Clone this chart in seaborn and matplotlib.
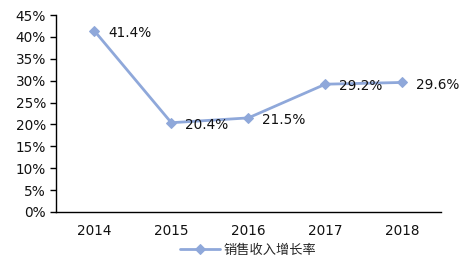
import matplotlib
matplotlib.use("Agg")
import matplotlib.pyplot as plt
import seaborn as sns
import pandas as pd
from matplotlib.ticker import FuncFormatter

years = ["2014", "2015", "2016", "2017", "2018"]
growth = [41.4, 20.4, 21.5, 29.2, 29.6]
series_name = "销售收入增长率"
yticks = [0, 5, 10, 15, 20, 25, 30, 35, 40, 45]

sns.set_style("white")
plt.rcParams['font.family'] = ['DejaVu Sans', 'Noto Sans CJK SC']

df = pd.DataFrame({"year": years, "value": growth, "series": series_name})

fig = plt.figure(figsize=(4.69, 2.64), dpi=100)
ax = fig.add_axes([0.119, 0.197, 0.821, 0.746])
color = "#8FA8DA"
sns.lineplot(data=df, x="year", y="value", hue="series", palette=[color],
             marker="D", markersize=5, markeredgecolor=color, linewidth=2,
             sort=False, ax=ax)

ax.set_xlim(-0.5, len(years) - 0.5)
ax.set_ylim(0, 45)
ax.set_yticks(yticks)
ax.yaxis.set_major_formatter(FuncFormatter(lambda v, p: f"{v:.0f}%"))
ax.set_xlabel("")
ax.set_ylabel("")
for s in ["top", "right"]:
    ax.spines[s].set_visible(False)
for s in ["left", "bottom"]:
    ax.spines[s].set_color("black")
    ax.spines[s].set_linewidth(1)
ax.tick_params(axis="y", left=True, length=4, width=1, color="black",
               labelsize=9.8, pad=3, labelcolor="#111111")
ax.tick_params(axis="x", bottom=False, labelsize=9.8, pad=5, labelcolor="#111111")

for i, v in enumerate(growth):
    ax.text(i + 0.18, v - 0.5, f"{v}%", fontsize=9.8, va="center", ha="left",
            color="#111111")

leg = ax.legend(loc="upper center", bbox_to_anchor=(0.5, -0.1), frameon=False,
                prop={'family': ['Noto Sans CJK SC'], 'size': 9.5},
                handlelength=3, handletextpad=0.3)

fig.savefig("out.png", dpi=100)
